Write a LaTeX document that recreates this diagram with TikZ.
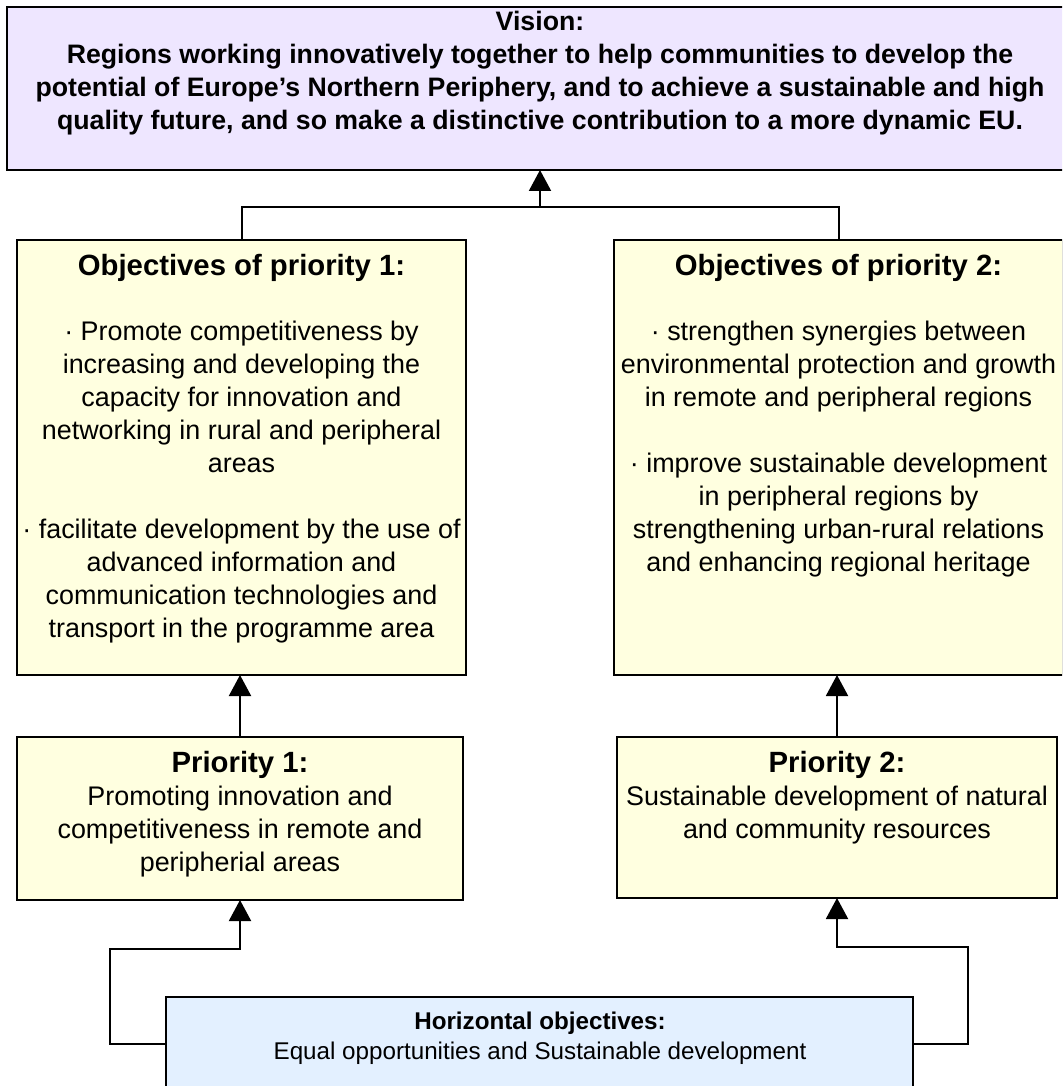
\documentclass[tikz,border=0pt]{standalone}
\usepackage{fontspec}
\setmainfont{Liberation Sans}
\usetikzlibrary{arrows.meta}
\definecolor{visionfill}{RGB}{238,230,255}
\definecolor{yellowfill}{RGB}{255,255,224}
\definecolor{bluefill}{RGB}{227,240,255}
\tikzset{
  boxstyle/.style={draw=black, line width=2pt, inner sep=0pt, outer sep=0pt, anchor=north west},
  txt/.style={anchor=north, inner sep=0pt, align=center, font=\fontsize{26.9}{33}\selectfont},
  btxt/.style={txt, font=\fontsize{26.7}{33}\selectfont\bfseries},
  ttxt/.style={txt, font=\fontsize{29.3}{33}\selectfont\bfseries},
  htxt/.style={txt, font=\fontsize{24.2}{28}\selectfont},
  hbtxt/.style={txt, font=\fontsize{24.2}{28}\selectfont\bfseries},
  conn/.style={line width=2pt, draw=black},
  arr/.style={conn, -{Triangle[width=22pt,length=21pt]}}
}
\begin{document}
\begin{tikzpicture}[x=1pt,y=-1pt]
\clip (0,0) rectangle (1062,1086);
\fill[white] (0,0) rectangle (1062,1086);
% boxes
\node[boxstyle, fill=visionfill, minimum width=1070pt, minimum height=163pt] (vision) at (7,7) {};
\node[boxstyle, fill=yellowfill, minimum width=449pt, minimum height=435pt] (obj1) at (17,240) {};
\node[boxstyle, fill=yellowfill, minimum width=449pt, minimum height=435pt] (obj2) at (614,240) {};
\node[boxstyle, fill=yellowfill, minimum width=446pt, minimum height=163pt] (p1) at (17,737) {};
\node[boxstyle, fill=yellowfill, minimum width=440pt, minimum height=161pt] (p2) at (617,737) {};
\node[boxstyle, fill=bluefill, minimum width=747pt, minimum height=94pt] (hor) at (166,997) {};
% texts
\node[btxt] (visiontext) at (540,11) {Vision:\\Regions working innovatively together to help communities to develop the\\potential of Europe’s Northern Periphery, and to achieve a sustainable and high\\quality future, and so make a distinctive contribution to a more dynamic EU.};
\node[ttxt] (obj1title) at (241.5,254) {Objectives of priority 1:};
\node[txt] (obj1text) at (241.5,321) {· Promote competitiveness by\\increasing and developing the\\capacity for innovation and\\networking in rural and peripheral\\areas\\[33pt]· facilitate development by the use of\\advanced information and\\communication technologies and\\transport in the programme area};
\node[ttxt] (obj2title) at (838.5,254) {Objectives of priority 2:};
\node[txt] (obj2text) at (838.5,321) {· strengthen synergies between\\environmental protection and growth\\in remote and peripheral regions\\[33pt]· improve sustainable development\\in peripheral regions by\\strengthening urban-rural relations\\and enhancing regional heritage};
\node[ttxt] (p1title) at (240,751) {Priority 1:};
\node[txt] (p1text) at (240,786) {Promoting innovation and\\competitiveness in remote and\\peripherial areas};
\node[ttxt] (p2title) at (837,751) {Priority 2:};
\node[txt] (p2text) at (837,786) {Sustainable development of natural\\and community resources};
\node[hbtxt] (hortitle) at (540,1012) {Horizontal objectives:};
\node[htxt] (hortext) at (540,1042) {Equal opportunities and Sustainable development};
% connectors
\coordinate (join) at (540,207);
\draw[conn] (obj1.north) |- (join);
\draw[conn] (obj2.north) |- (join);
\draw[arr] (join) -- (join |- vision.south);
\draw[arr] (p1.north) -- (p1.north |- obj1.south);
\draw[arr] (p2.north) -- (p2.north |- obj2.south);
\coordinate (lbend) at (110,949);
\coordinate (rbend) at (968,947);
\draw[arr] (hor.west) -| (lbend) -| (p1.south);
\draw[arr] (hor.east) -| (rbend) -| (p2.south);
\end{tikzpicture}
\end{document}
